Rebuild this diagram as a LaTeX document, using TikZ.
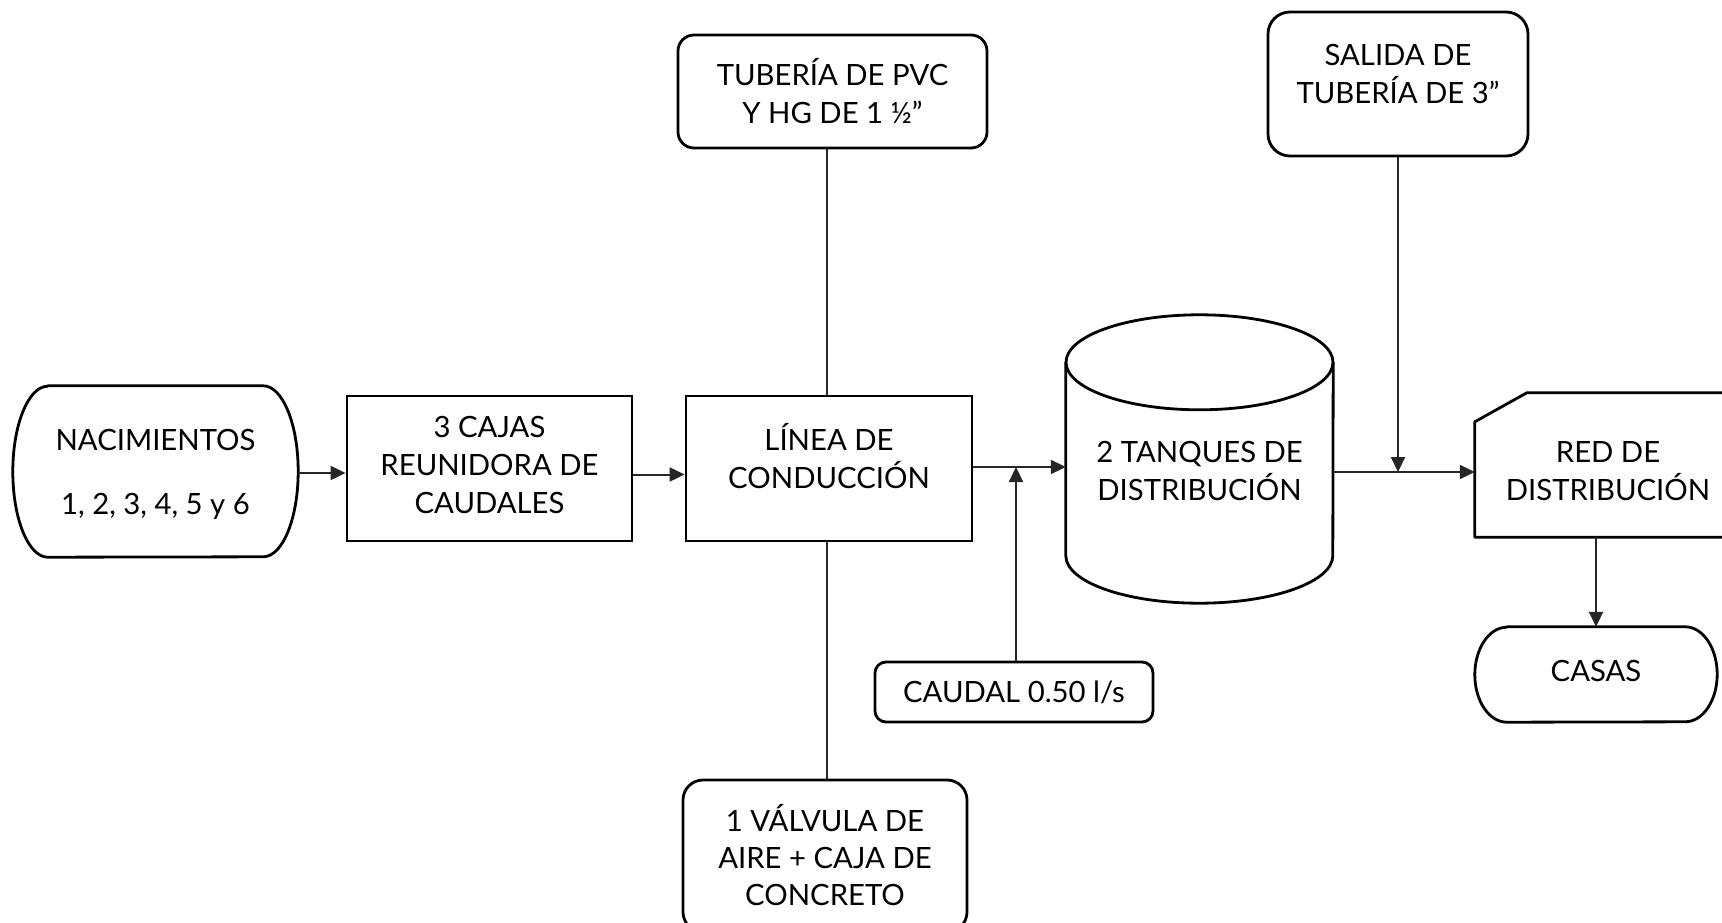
\documentclass[tikz,border=0pt]{standalone}
\usepackage{fontspec}
\setmainfont{Lato}
\usetikzlibrary{arrows.meta}
\tikzset{
  txt/.style={font=\fontsize{29.3pt}{38pt}\selectfont, align=center},
  bx/.style={txt, draw, line width=2.8pt, inner sep=0pt},
  rbx/.style={bx, rounded corners=16pt},
  ghost/.style={txt, inner sep=0pt},
  shp/.style={line width=2.8pt, line join=round},
  conn/.style={line width=2pt, draw=black!85},
  arr/.style={conn, -{Triangle[length=15pt,width=14pt]}},
  lbl/.style={txt}
}
\begin{document}
\begin{tikzpicture}[x=1pt,y=-1pt]
\useasboundingbox (0,0) rectangle (1722,923);
\clip (0,0) rectangle (1722,923);
\fill[white] (0,0) rectangle (1722,923);

% nodes
\node[ghost, minimum width=285pt, minimum height=171pt,
      label={[lbl,yshift=-3pt]center:NACIMIENTOS\\[26pt]1, 2, 3, 4, 5 y 6}] (nac) at (155.5,471.5) {};
\node[bx, minimum width=285pt, minimum height=145pt,
      label={[lbl,yshift=3.5pt]center:3 CAJAS\\REUNIDORA DE\\CAUDALES}] (cajas) at (489.5,468.5) {};
\node[bx, minimum width=286pt, minimum height=145pt,
      label={[lbl,yshift=12pt]center:LÍNEA DE\\CONDUCCIÓN}] (lin) at (829,468.5) {};
\node[rbx, minimum width=309pt, minimum height=113pt] (tub) at (832.5,91.5) {TUBERÍA DE PVC\\Y HG DE 1 ½”};
\node[rbx, rounded corners=20pt, minimum width=284pt, minimum height=152pt,
      label={[lbl,yshift=1pt,font=\fontsize{29.3pt}{37pt}\selectfont]center:1 VÁLVULA DE\\AIRE + CAJA DE\\CONCRETO}] (valve) at (825,856) {};
\node[rbx, rounded corners=11pt, minimum width=278pt, minimum height=60pt] (caudal) at (1014,692) {CAUDAL 0.50 l/s};
\node[ghost, minimum width=267pt, minimum height=288pt,
      label={[lbl,yshift=-12pt]center:2 TANQUES DE\\DISTRIBUCIÓN}] (tank) at (1199.5,459) {};
\node[rbx, rounded corners=22pt, minimum width=260pt, minimum height=144pt,
      label={[lbl,yshift=10pt]center:SALIDA DE\\TUBERÍA DE 3”}] (salida) at (1398,84) {};
\node[ghost, minimum width=266pt, minimum height=144pt,
      label={[lbl,yshift=-6pt]center:RED DE\\DISTRIBUCIÓN}] (red) at (1608,465) {};
\node[ghost, minimum width=242pt, minimum height=95pt,
      label={[lbl,yshift=4pt]center:CASAS}] (casas) at (1596,674.5) {};

% custom outlines
\draw[shp] ([xshift=35pt]nac.north west) -- ([xshift=-35pt]nac.north east)
  arc[start angle=90,end angle=-90,x radius=35pt,y radius=85.5pt]
  -- ([xshift=35pt]nac.south west)
  arc[start angle=270,end angle=90,x radius=35pt,y radius=85.5pt] -- cycle;
\draw[shp] ([xshift=32pt]casas.north west) -- ([xshift=-32pt]casas.north east)
  arc[start angle=90,end angle=-90,x radius=32pt,y radius=47.5pt]
  -- ([xshift=32pt]casas.south west)
  arc[start angle=270,end angle=90,x radius=32pt,y radius=47.5pt] -- cycle;
\draw[shp] ([yshift=-47.5pt]tank.north) ellipse [x radius=133.5pt, y radius=47.5pt];
\draw[shp] ([yshift=-47.5pt]tank.north west) -- ([yshift=47.5pt]tank.south west)
  arc[start angle=180,end angle=360,x radius=133.5pt,y radius=47.5pt]
  -- ([yshift=-47.5pt]tank.north east);
\draw[shp] ([yshift=-29pt]red.north west) -- ([xshift=52pt]red.north west)
  -- (red.north east) -- (red.south east) -- (red.south west) -- cycle;

% connectors
\coordinate (j1) at (1016,467);
\coordinate (j2) at (1398,472);
\draw[arr] ([yshift=-1.5pt]nac.east) -- ([yshift=-1.5pt]nac.east -| cajas.west);
\draw[arr] ([yshift=-6pt]cajas.east) -- ([yshift=-6pt]cajas.east -| lin.west);
\draw[conn] (lin.north -| 827,0) -- (tub.south -| 827,0);
\draw[conn] (lin.south -| 827,0) -- (valve.north -| 827,0);
\draw[arr] (j1 -| lin.east) -- (j1 -| tank.west);
\draw[arr] (j1 |- caudal.north) -- (j1);
\draw[arr] (salida.south) -- (j2);
\draw[arr] (j2 -| tank.east) -- (j2 -| red.west);
\draw[arr] (casas.north |- red.south) -- (casas.north);
\end{tikzpicture}
\end{document}
